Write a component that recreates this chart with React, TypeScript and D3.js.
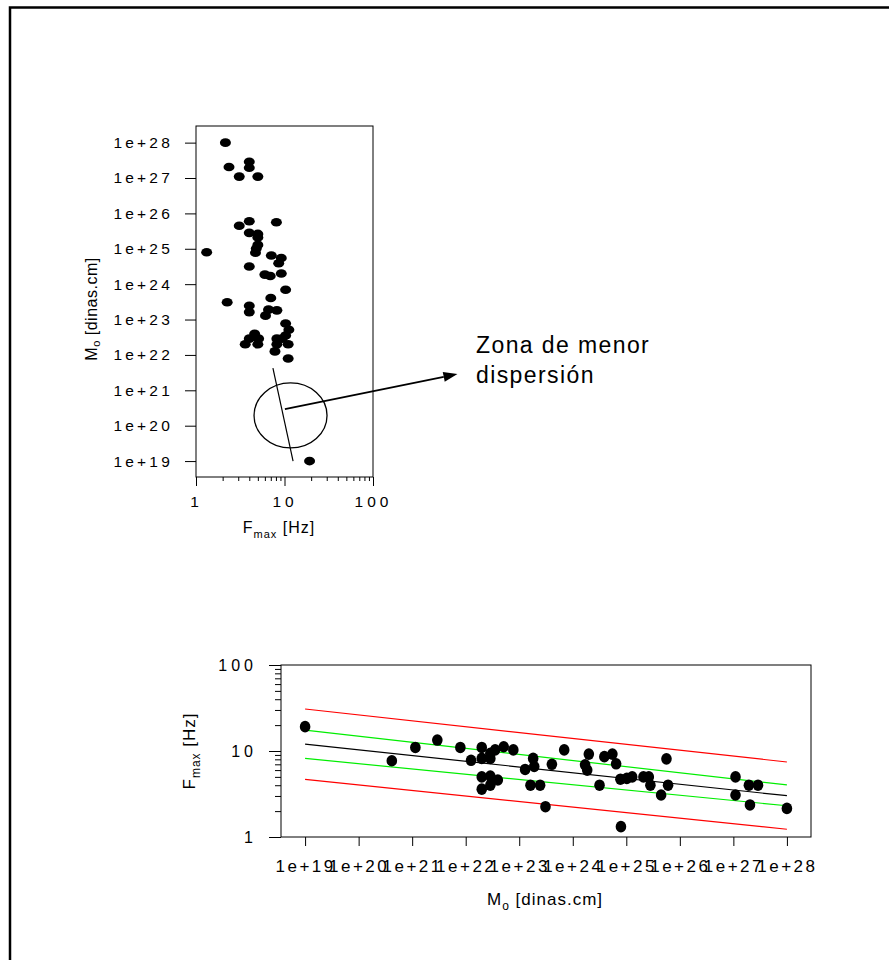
import React, { useRef, useEffect } from "react";
import * as d3 from "d3";

// log10 of seismic moment (dinas.cm) and corner frequency Fmax (Hz), shared by both panels
const moExp = [19.0, 21.9, 22.3, 22.3, 22.46, 22.55, 22.71, 22.46, 22.89, 22.3, 22.46, 22.6, 22.46, 22.3, 22.1, 23.11, 23.26, 23.28, 23.21, 23.39, 23.49, 23.61, 23.84, 24.23, 24.27, 24.3, 24.5, 24.59, 24.74, 24.81, 24.9, 24.89, 25.01, 25.11, 25.32, 25.42, 25.45, 25.65, 25.75, 25.78, 27.04, 27.04, 27.29, 27.46, 27.31, 28.0];
const fmax = [19.2, 11.0, 11.0, 8.2, 9.4, 10.3, 11.2, 8.2, 10.3, 5.0, 5.1, 4.6, 4.0, 3.6, 7.8, 6.1, 8.2, 6.6, 4.0, 4.0, 2.25, 7.0, 10.3, 6.9, 6.0, 9.2, 4.0, 8.6, 9.2, 7.1, 1.32, 4.7, 4.8, 5.0, 5.0, 5.0, 4.0, 3.08, 8.1, 4.0, 5.0, 3.08, 4.0, 4.0, 2.36, 2.15];
// events only plotted in the lower panel
const extraMoExp = [20.62, 21.06, 21.47];
const extraFmax = [7.7, 11.0, 13.4];

// fitted lines in the lower panel: Fmax at Mo = 1e19 and Mo = 1e28
const fitMo = [1e19, 1e28];
const fitMean = [12.05, 3.02];
const fitInnerUp = [17.5, 4.03];
const fitInnerLow = [8.2, 2.31];
const fitOuterUp = [30.8, 7.45];
const fitOuterLow = [4.69, 1.23];

const decadesMo = d3.range(19, 29).map(e => Math.pow(10, e));
const decadesF = [1, 10, 100];
const minorF = [2, 3, 4, 5, 6, 7, 8, 9, 20, 30, 40, 50, 60, 70, 80, 90];

// annotation in the upper panel, in data units (Fmax, log10 Mo)
const zoneCenter = [11.7, 20.29];
const zoneLine = [[7.4, 21.63], [12.5, 19.0]];
const arrowLine = [[10.1, 20.47], [900, 21.46]];

export default () => {
    const ref = useRef(null);

    useEffect(() => {
        if (ref.current) draw();
    }, []);

    const draw = () => {
        const width = 889, height = 960;
        const font = "Liberation Sans, Arial, sans-serif";
        const svg = d3.select(ref.current)
            .append("svg")
            .attr("width", width)
            .attr("height", height)
            .style("display", "block")
            .attr("font-family", font);

        svg.append("rect").attr("width", width).attr("height", height).attr("fill", "#fff");

        // outer page frame
        svg.append("path")
            .attr("d", `M10,${height} V7.5 H${width}`)
            .attr("fill", "none")
            .attr("stroke", "#000")
            .attr("stroke-width", 2.5);

        const points = moExp.map((m, i) => ({ mo: Math.pow(10, m), f: fmax[i] }));
        const extra = extraMoExp.map((m, i) => ({ mo: Math.pow(10, m), f: extraFmax[i] }));

        // ---------- upper panel: Mo vs Fmax ----------
        const x1 = d3.scaleLog().domain([1, 100]).range([196, 373]);
        const y1 = d3.scaleLog().domain([Math.pow(10, 18.55), Math.pow(10, 28.47)]).range([477, 126]);

        const g1 = svg.append("g");
        g1.append("rect")
            .attr("x", 196).attr("y", 126)
            .attr("width", 373 - 196).attr("height", 477 - 126)
            .attr("fill", "none").attr("stroke", "#000");

        const tickStyle = (g, size, spacing) => {
            g.select(".domain").remove();
            g.selectAll("text")
                .attr("font-size", size)
                .attr("letter-spacing", spacing)
                .attr("fill", "#000")
                .attr("font-family", font);
            g.selectAll("line").attr("stroke", "#000");
        };

        g1.append("g")
            .attr("transform", "translate(196,0)")
            .call(d3.axisLeft(y1).tickValues(decadesMo).tickFormat(d => `1e+${Math.round(Math.log10(d))}`).tickSize(11).tickPadding(12))
            .call(g => tickStyle(g, 15.5, 3.2));

        g1.append("g")
            .attr("transform", "translate(0,477)")
            .call(d3.axisBottom(x1).tickValues(decadesF).tickFormat(d3.format("d")).tickSize(9).tickPadding(10))
            .call(g => tickStyle(g, 15.5, 4));
        g1.append("g")
            .attr("transform", "translate(0,477)")
            .call(d3.axisBottom(x1).tickValues(minorF).tickFormat(() => "").tickSize(4))
            .call(g => tickStyle(g, 15, 0));

        g1.append("g")
            .selectAll("ellipse")
            .data(points)
            .join("ellipse")
            .attr("cx", d => x1(d.f))
            .attr("cy", d => y1(d.mo))
            .attr("rx", 5.5)
            .attr("ry", 4.3)
            .attr("fill", "#000");

        // zone of lower dispersion
        const lp = (p) => [x1(p[0]), y1(Math.pow(10, p[1]))];
        const c = lp(zoneCenter);
        g1.append("ellipse")
            .attr("cx", c[0]).attr("cy", c[1])
            .attr("rx", 36.5).attr("ry", 32.5)
            .attr("fill", "none").attr("stroke", "#000").attr("stroke-width", 1.3);
        g1.append("path")
            .attr("d", d3.line()(zoneLine.map(lp)))
            .attr("stroke", "#000").attr("stroke-width", 1.2);

        const a0 = lp(arrowLine[0]), a1 = lp(arrowLine[1]);
        const ang = Math.atan2(a1[1] - a0[1], a1[0] - a0[0]);
        const hl = 14, hw = 5;
        const base = [a1[0] - hl * Math.cos(ang), a1[1] - hl * Math.sin(ang)];
        g1.append("line")
            .attr("x1", a0[0]).attr("y1", a0[1])
            .attr("x2", base[0]).attr("y2", base[1])
            .attr("stroke", "#000").attr("stroke-width", 1.8);
        g1.append("path")
            .attr("d", d3.line()([
                a1,
                [base[0] + hw * Math.sin(ang), base[1] - hw * Math.cos(ang)],
                [base[0] - hw * Math.sin(ang), base[1] + hw * Math.cos(ang)]
            ]) + "Z")
            .attr("fill", "#000");

        const note = g1.append("text").attr("font-size", 23).attr("letter-spacing", 1.4).attr("fill", "#000");
        note.append("tspan").attr("x", 476).attr("y", 353).text("Zona de menor");
        note.append("tspan").attr("x", 476).attr("y", 383).text("dispersión");

        // axis titles
        const t1 = g1.append("text").attr("x", 279).attr("y", 533).attr("text-anchor", "middle").attr("font-size", 16).attr("letter-spacing", 1);
        t1.append("tspan").text("F");
        t1.append("tspan").attr("font-size", 11).attr("dy", 5).text("max");
        t1.append("tspan").attr("dy", -5).text(" [Hz]");

        const t2 = g1.append("text").attr("transform", "translate(97,309) rotate(-90)").attr("text-anchor", "middle").attr("font-size", 16).attr("letter-spacing", 0.5);
        t2.append("tspan").text("M");
        t2.append("tspan").attr("font-size", 11).attr("dy", 3).text("o");
        t2.append("tspan").attr("dy", -3).text(" [dinas.cm]");

        // ---------- lower panel: Fmax vs Mo ----------
        const x2 = d3.scaleLog().domain([Math.pow(10, 18.55), Math.pow(10, 28.45)]).range([281, 811]);
        const y2 = d3.scaleLog().domain([1, 100]).range([837, 665]);

        const g2 = svg.append("g");
        g2.append("rect")
            .attr("x", 281).attr("y", 665)
            .attr("width", 811 - 281).attr("height", 837 - 665)
            .attr("fill", "none").attr("stroke", "#000");

        g2.append("g")
            .attr("transform", "translate(281,0)")
            .call(d3.axisLeft(y2).tickValues(decadesF).tickFormat(d3.format("d")).tickSize(12).tickPadding(12))
            .call(g => tickStyle(g, 16, 4));
        g2.append("g")
            .attr("transform", "translate(281,0)")
            .call(d3.axisLeft(y2).tickValues(minorF).tickFormat(() => "").tickSize(6))
            .call(g => tickStyle(g, 16, 0));

        g2.append("g")
            .attr("transform", "translate(0,837)")
            .call(d3.axisBottom(x2).tickValues(decadesMo).tickFormat(d => `1e+${Math.round(Math.log10(d))}`).tickSize(9).tickPadding(14))
            .call(g => tickStyle(g, 17, 2.5));

        const line = d3.line().x(d => x2(d[0])).y(d => y2(d[1]));
        const fits = [
            { v: fitOuterUp, color: "#ff0000" },
            { v: fitOuterLow, color: "#ff0000" },
            { v: fitInnerUp, color: "#00ee00" },
            { v: fitInnerLow, color: "#00ee00" },
            { v: fitMean, color: "#000000" }
        ];
        g2.append("g")
            .selectAll("path")
            .data(fits)
            .join("path")
            .attr("d", d => line(fitMo.map((m, i) => [m, d.v[i]])))
            .attr("fill", "none")
            .attr("stroke", d => d.color)
            .attr("stroke-width", 1.2);

        g2.append("g")
            .selectAll("ellipse")
            .data(points.concat(extra))
            .join("ellipse")
            .attr("cx", d => x2(d.mo))
            .attr("cy", d => y2(d.f))
            .attr("rx", 5.3)
            .attr("ry", 5.8)
            .attr("fill", "#000");

        const t3 = g2.append("text").attr("x", 545).attr("y", 905).attr("text-anchor", "middle").attr("font-size", 17).attr("letter-spacing", 1);
        t3.append("tspan").text("M");
        t3.append("tspan").attr("font-size", 12).attr("dy", 5).text("o");
        t3.append("tspan").attr("dy", -5).text(" [dinas.cm]");

        const t4 = g2.append("text").attr("transform", "translate(195,751) rotate(-90)").attr("text-anchor", "middle").attr("font-size", 17).attr("letter-spacing", 1);
        t4.append("tspan").text("F");
        t4.append("tspan").attr("font-size", 12).attr("dy", 5).text("max");
        t4.append("tspan").attr("dy", -5).text(" [Hz]");
    };

    return (
        <div
            ref={ref}
            style={{ position: "absolute", left: 0, top: 0 }}
        ></div>
    );
};
